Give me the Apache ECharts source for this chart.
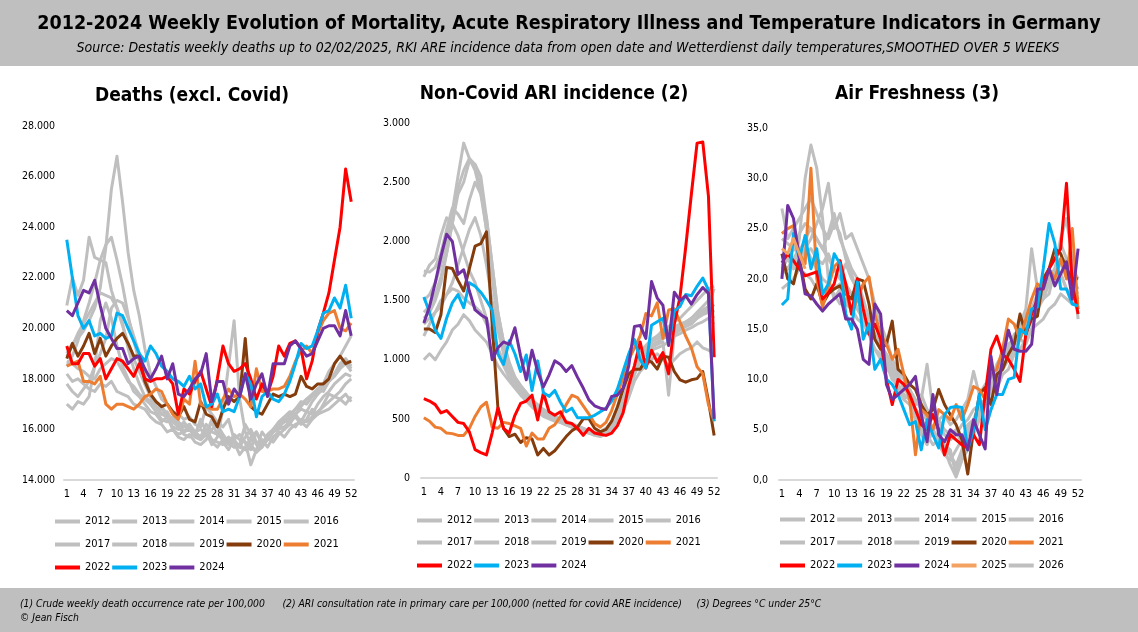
<!DOCTYPE html>
<html><head><meta charset="utf-8">
<script src="https://cdn.jsdelivr.net/npm/echarts@6/dist/echarts.min.js"></script>
<style>html,body{margin:0;padding:0;background:#fff}#c{width:1138px;height:632px}</style>
</head><body><div id="c"></div>
<script>
const weeks = Array.from({length:52},(_,i)=>String(i+1));
const years = ['2012','2013','2014','2015','2016','2017','2018','2019','2020','2021','2022','2023','2024'];
const years3 = years.concat(['2025','2026']);

// ---- Deaths (excl. Covid) ----
const deaths2012=[17000,16800,17100,17000,17300,18500,20300,21000,20400,19300,18500,18000,17500,17300,17000,16700,16600,16300,16500,16000,15800,15900,16000,15700,15600,15800,15500,15300,15600,15500,15300,15400,16200,15800,15400,15600,15300,15700,15900,15700,16000,16200,16300,16100,16400,16600,16700,16800,17000,17200,17400,17100];
const deaths2013=[17800,17500,17300,17600,17900,18500,19000,19600,20800,21100,21000,20400,19700,19000,18200,17300,16900,16600,16500,16100,16000,16300,16000,15900,15600,15800,16300,15800,15700,15600,15500,15300,15200,15700,15900,15400,15600,15900,16000,16100,16300,16500,16200,16400,16800,16600,17000,17400,17300,17500,17800,18000];
const deaths2014=[18200,17900,18000,17800,17600,17500,17800,17700,17900,17500,17400,17300,17000,16900,16800,16500,16300,16200,15900,16000,15700,15600,15800,15500,15400,15600,16000,16200,15800,15500,15300,15400,15200,15600,15500,15300,15700,15500,15800,16000,16200,16100,16400,16300,16500,16700,16900,17100,17300,17200,17000,17300];
const deaths2015=[18500,18900,19500,20300,21000,21800,22700,23300,23600,22700,21700,20500,19500,18700,17800,17300,16900,16600,16700,16300,16100,15800,15700,15900,16000,15800,16400,16200,15500,15200,15600,15300,15700,16000,15500,15400,15700,16000,16300,16500,16700,16600,16900,17200,17300,17600,17500,17900,18100,18400,18600,18300];
const deaths2016=[18700,18600,18400,18300,18100,18000,18400,18600,18800,18700,18300,17900,17700,17400,17200,17000,16700,16400,16300,16500,16200,15900,16100,15800,15700,16000,15600,15500,15400,15700,15500,15000,15300,15200,15900,15500,15700,15900,16100,16400,16200,16600,16800,16700,17100,17400,17600,17900,18200,18500,18700,18400];
const deaths2017=[20900,22000,21300,21900,23600,22800,22700,22600,21500,20800,20100,19400,18800,18300,17800,17400,17100,16900,16600,16400,16300,16100,16200,15900,15700,16200,15900,15800,15600,15400,15800,15600,15500,15300,15100,15400,15800,16000,16200,16300,16600,16800,17100,17000,17300,17500,17700,18000,18200,18600,18800,18500];
const deaths2018=[19000,19400,19600,19900,20300,20800,21600,23200,25500,26800,25000,23000,21500,20500,19200,18200,17700,17200,17000,16700,16600,16400,16500,16200,16100,16900,16600,16300,16100,16400,15600,15800,15500,14600,15200,15900,15600,15900,16200,16000,16400,16600,16300,16700,16600,17000,17300,17500,17800,18000,18200,18100];
const deaths2019=[18900,19300,19800,20200,20600,21000,21400,21300,21200,20800,20200,19200,18400,17800,17300,17100,16900,16800,16600,16400,16300,15900,16200,15800,16400,15900,15400,15700,16800,18500,20300,17200,15900,15400,15100,15300,15600,15900,16100,16300,16500,16800,17000,17200,17400,17600,17800,18300,18600,18900,19300,19700];
const deaths2020=[18800,19400,18900,19300,19800,19000,19600,18900,19300,19600,19800,19400,18900,18900,17900,17400,17100,16900,17000,16700,16500,16900,16400,16300,17100,16600,16500,16100,16800,17300,17100,17300,19600,16900,16700,16600,17000,17400,17300,17400,17300,17400,18100,17700,17600,17800,17800,18000,18600,18900,18600,18700];
const deaths2021=[18500,18600,18700,17900,17900,17800,18100,17000,16800,17000,17000,16900,16800,17000,17300,17400,17600,17500,17000,16600,16400,17200,17000,18700,17000,16900,16800,16800,17200,17600,17300,17400,17200,16900,18400,17500,17500,17600,17600,17700,18100,18700,19100,19300,19000,19800,20300,20600,20700,20000,19900,20200];
const deaths2022=[19300,18600,18600,19000,19000,18500,18800,18000,18400,18800,18700,18400,18100,18600,18000,17900,18000,18000,18100,17800,16600,17600,17400,17900,18300,17600,16900,18000,19300,18600,18300,18400,18600,18000,17200,17800,17400,18100,19300,18900,19400,19500,19200,18000,18700,19900,20600,21400,22700,24000,26300,25000];
const deaths2023=[23500,22000,20500,20000,20300,19700,19800,19600,19700,20600,20500,20000,19500,19000,18700,19300,19000,18500,18300,18000,17900,17700,18100,17600,17800,16900,17000,17400,16700,16800,16700,17300,18200,17800,16500,17300,17500,17200,17100,17400,17900,18600,19400,19200,19300,19900,20600,20700,21200,20800,21700,20400];
const deaths2024=[20700,20500,21000,21500,21400,21900,20900,20000,19600,19200,19200,18600,18800,18900,18400,18000,18400,18900,18000,18600,17400,17300,17600,18000,18200,19000,17100,17900,17900,17000,17600,17300,18200,17200,17800,18200,17300,18600,18600,18600,19300,19500,19200,18900,19000,19500,20000,20100,20100,19700,20700,19700];

// ---- Non-Covid ARI incidence ----
const ari2012=[1000,1050,1000,1080,1150,1250,1300,1380,1330,1250,1200,1150,1050,950,880,820,760,700,650,600,560,520,500,480,470,460,450,430,420,400,380,370,380,420,480,560,680,820,900,950,1000,1050,1000,950,1000,1050,1080,1100,1150,1100,1080,1050];
const ari2013=[1750,1740,1780,1900,2100,2280,2230,2150,2350,2500,2400,2200,1800,1400,1150,980,850,760,700,640,600,560,540,510,490,470,450,430,410,390,370,380,410,460,540,650,780,920,1050,1100,1120,1150,1180,1200,1220,1250,1280,1300,1350,1400,1450,1600];
const ari2014=[1300,1350,1400,1500,1550,1600,1580,1520,1480,1450,1400,1300,1200,1100,980,900,820,750,690,640,600,560,530,500,480,460,440,420,400,380,370,370,390,440,520,620,750,880,980,1050,1080,1100,1120,1150,1200,1220,1250,1270,1300,1320,1350,1300];
const ari2015=[1400,1450,1550,1700,1900,2150,2450,2600,2700,2650,2550,2200,1800,1400,1150,950,820,750,680,620,580,540,520,500,470,450,430,410,390,380,360,350,370,420,500,600,740,880,1000,1080,1120,1150,1180,1200,1230,1260,1300,1320,1350,1380,1400,1350];
const ari2016=[1200,1300,1400,1450,1550,1650,1800,1950,2100,2200,2050,1800,1500,1250,1050,900,800,720,660,610,570,530,510,490,470,450,430,410,390,380,370,380,400,450,530,640,780,920,1050,1100,1150,1200,1220,1250,1280,1300,1320,1350,1380,1420,1450,1400];
const ari2017=[1700,1800,1850,2050,2200,2150,2050,1900,1750,1650,1500,1350,1200,1050,950,850,780,720,670,620,580,550,520,500,480,460,440,420,400,390,380,380,400,440,510,600,740,880,1000,1050,1100,1130,1150,700,1220,1260,1300,1350,1400,1450,1500,1450];
const ari2018=[1500,1550,1650,1800,2000,2250,2550,2830,2700,2600,2400,2100,1700,1350,1100,950,850,780,720,660,620,580,550,520,500,480,460,440,420,400,380,390,410,460,540,650,790,930,1050,1100,1150,1180,1200,1230,1250,1280,1310,1350,1380,1400,1420,1400];
const ari2019=[1350,1400,1500,1650,1900,2150,2400,2500,2680,2650,2450,2100,1700,1350,1100,950,850,780,720,660,610,570,540,510,490,470,450,430,410,400,390,390,420,470,560,670,800,940,1060,1120,1170,1200,1250,1280,1320,1350,1400,1450,1500,1550,1600,1620];
const ari2020=[1260,1260,1230,1380,1780,1770,1670,1580,1770,1960,1980,2080,1300,600,420,350,370,300,340,330,195,250,195,230,290,350,400,430,500,500,420,390,410,480,600,750,880,920,920,1000,980,920,1030,1020,900,830,810,830,840,900,650,360];
const ari2021=[510,480,430,420,380,375,360,360,420,520,600,640,430,420,470,460,440,420,270,380,330,330,420,450,520,620,700,680,610,540,460,430,470,570,710,850,1000,1100,1200,1390,1370,1480,1180,1420,1430,1320,1200,1100,940,880,620,480];
const ari2022=[670,650,620,550,570,520,470,460,390,240,215,195,380,590,420,380,530,630,650,700,490,720,560,530,560,470,460,420,360,420,380,370,360,380,440,550,780,950,1150,930,1080,980,1060,880,1300,1530,1950,2400,2830,2840,2380,1020];
const ari2023=[1530,1400,1250,1180,1350,1480,1550,1440,1650,1620,1570,1500,1420,1050,960,1160,1050,900,1040,740,990,720,690,740,640,560,590,510,510,510,530,560,590,650,750,900,1050,1170,1000,930,1290,1320,1350,1130,1410,1450,1550,1540,1620,1690,1590,480];
const ari2024=[1310,1450,1650,1870,2060,2000,1720,1760,1580,1420,1380,1350,1000,1100,1150,1130,1270,1030,830,1080,900,770,870,990,960,900,950,850,760,660,610,590,580,690,700,760,950,1280,1290,1180,1660,1520,1460,1120,1570,1500,1540,1470,1550,1610,1560,500];

// ---- Air Freshness (degrees under 25°C) ----
const temp2012=[22.5,22,21,24,30,33.3,31,26,20,18,19,17.5,17,18,16.5,15,14,13.5,11,10.5,9,8,9,7.5,8.5,7,6.5,6,5,4.5,5,3.5,5,6,7.5,8,9,10.5,11,12,13,14,13.5,15,17,18,18.5,21,20.5,19,18,17];
const temp2013=[27,24,25,26,27,28,26.5,25,24,25.5,24.5,22,20.5,18.5,16,14.5,13,12.5,11.5,10,9.5,8.5,8,6.5,5,4,5,3.5,2.5,2,3,4,5.5,6,7,7.5,9,10,12,13,14.5,15,16,17,18.5,19,20,19.5,20.5,19,18,17.5];
const temp2014=[19,19.5,20,21,20.5,20,19,18.5,19,18.5,17.5,18,17,16,15.5,14.5,13,12,11.5,10.5,9,8.5,8,7,6.5,6,5,5.5,4.5,4,4.5,5.5,6,7,7.5,8,9.5,10.5,11.5,12,12.5,13,14,15,15.5,16,17,17.5,18.5,18,17.5,18];
const temp2015=[21,22,23,22.5,24,25,24,23,22,21,20,21.5,20,19,17.5,16,14,13.5,12.5,11.5,10.5,9,8.5,7,6,5,4.5,4,3.5,3,0.5,2,3,4.5,6,7.5,8.5,9,10.5,11,12.5,14,15.5,17,18,19,20,21,21.5,20.5,19,18.5];
const temp2016=[20.5,21,22,21.5,22.5,23,22,21.5,22.5,21,20,19.5,18.5,17,16,15.5,14.5,13,12,10,9.5,8,7.5,6,5.5,4.5,3.5,4,3,2.5,1,2.5,3.5,5,6.5,7.5,8.5,10,11,12,13,14.5,15,16.5,17.5,18.5,20,21,22,21,19.5,18];
const temp2017=[24,23.5,23,24.5,25.5,25,24,23,24.5,26.5,24,22.5,21,20,18,16,14.5,13.5,12,11,10,9.5,8.5,7.5,8,11.5,7,6,6.5,5.5,6,7,8,10.8,8.5,9.5,10,11.5,12.5,13.5,14,15,16.5,17,18,19.5,21,22,23.5,22,20,19];
const temp2018=[22,22.5,21,22,23,24,25.5,27,29.5,25,26.5,24,24.5,23,21.5,20,17.5,15.5,14,12,11,10,9,8,7,6,5,4,3.5,2.5,1.5,3,4.5,5.5,7,8,9,10,11,12,13,14.5,15.5,16,17.5,18.5,19.5,20.5,21.5,22,21,20];
const temp2019=[21.5,21,22,23,23.5,22,21,20,19.5,19,19.5,19,18.5,17,16,15.5,14,13,12.5,11,10,9.5,9,7,4.5,3.5,5,4,3,1.5,0.3,2,3.5,5,6.5,8,9,10.5,12,13,14,15.5,17,23,19,18,19.5,21,24,26,22,16];
const temp2020=[22.5,20.0,19.5,22.0,19.0,18.0,19.5,17.5,18.5,19.0,19.3,18.5,18.0,20.0,19.8,17.5,14.0,13.0,13.5,15.8,11.0,10.5,9.5,9.0,7.5,6.5,7.0,9.0,7.5,6.5,5.5,4.0,0.6,5.0,8.5,9.2,7.5,10.5,11.0,12.5,13.5,16.5,14.5,16.0,16.3,20.0,21.0,23.0,22.5,21.0,20.0,20.0];
const temp2021=[24.5,25.0,25.3,22.5,21.5,31.0,20.0,17.2,19.2,21.2,21.8,18.9,16.5,18.0,19.5,20.2,16.5,14.5,13.5,12.0,13.0,10.5,8.0,2.5,7.0,6.5,5.0,7.0,6.5,6.0,7.5,6.0,7.5,9.3,9.0,8.0,10.5,11.0,13.0,16.0,15.5,14.0,16.0,18.0,19.5,19.0,21.0,20.0,22.0,20.0,25.0,17.0];
const temp2022=[21.6,22.5,21.8,21.0,20.3,20.5,20.7,18.0,18.6,19.5,21.8,19.5,16.5,20.0,17.0,14.5,15.5,14.0,10.0,7.5,10.0,9.5,8.5,7.0,5.5,5.0,6.5,5.0,2.5,4.5,4.0,3.5,3.2,4.5,3.5,8.5,13.0,14.3,12.5,12.0,11.0,9.8,14.5,16.5,18.0,19.5,21.0,22.0,23.0,29.5,19.5,16.5];
const temp2023=[17.4,18.0,24.5,22.0,24.3,21.0,23.0,18.5,19.5,22.5,21.5,16.5,15.0,19.7,14.0,15.5,11.0,12.0,10.0,9.5,8.5,7.0,5.5,5.8,3.0,6.0,4.5,3.2,6.5,7.2,7.3,7.2,3.0,5.0,8.5,5.0,7.0,8.5,8.5,10.0,10.2,15.0,14.5,17.0,17.2,21.0,25.5,23.5,19.0,19.0,17.5,17.3];
const temp2024=[20.0,27.3,26.0,22.0,18.5,18.3,17.5,16.8,17.5,18.0,18.5,16.0,16.0,15.0,12.0,11.5,17.5,16.5,9.5,8.0,8.5,9.0,9.5,10.3,6.5,3.8,8.5,4.5,3.8,5.0,4.5,4.5,3.0,6.0,4.5,3.1,12.3,8.5,12.0,14.9,13.0,12.8,12.8,13.5,19.0,19.0,21.0,19.3,20.5,21.7,18.0,23.0];
const temp2025=[23.0,22.5,24.0,22.5,21.0];
const temp2026=[];

const colors = {'2020':'#843c0c','2021':'#ed7d31','2022':'#ff0000','2023':'#00b0f0','2024':'#7030a0','2025':'#f4a261','2026':'#bfbfbf'};
const gray = '#bfbfbf';
const FONT = '"DejaVu Sans Condensed","DejaVu Sans",sans-serif';

const panels = [
  {data:{'2012':deaths2012,'2013':deaths2013,'2014':deaths2014,'2015':deaths2015,'2016':deaths2016,'2017':deaths2017,'2018':deaths2018,'2019':deaths2019,'2020':deaths2020,'2021':deaths2021,'2022':deaths2022,'2023':deaths2023,'2024':deaths2024}, yrs:years},
  {data:{'2012':ari2012,'2013':ari2013,'2014':ari2014,'2015':ari2015,'2016':ari2016,'2017':ari2017,'2018':ari2018,'2019':ari2019,'2020':ari2020,'2021':ari2021,'2022':ari2022,'2023':ari2023,'2024':ari2024}, yrs:years},
  {data:{'2012':temp2012,'2013':temp2013,'2014':temp2014,'2015':temp2015,'2016':temp2016,'2017':temp2017,'2018':temp2018,'2019':temp2019,'2020':temp2020,'2021':temp2021,'2022':temp2022,'2023':temp2023,'2024':temp2024,'2025':temp2025,'2026':temp2026}, yrs:years3}
];

const grids = [
  {left:64, top:126, width:290, height:354},
  {left:421, top:123, width:296, height:355},
  {left:779, top:128, width:302, height:352}
];
const yCfg = [
  {min:14000,max:28000,interval:2000,fmt:v=>(v/1000)+'.000', margin:9},
  {min:0,max:3000,interval:500,fmt:v=>v===0?'0':(v>=1000?Math.floor(v/1000)+'.'+String(v%1000).padStart(3,'0'):String(v)), margin:11},
  {min:0,max:35,interval:5,fmt:v=>v.toFixed(1).replace('.',','), margin:11}
];

const series = [];
panels.forEach((p,gi)=>{
  p.yrs.forEach(y=>{
    const c = colors[y] || gray;
    series.push({type:'line', name:y, data:p.data[y], xAxisIndex:gi, yAxisIndex:gi,
      symbol:'none', showSymbol:false, smooth:false,
      lineStyle:{width:3, color:c, join:'round'}, itemStyle:{color:c},
      emphasis:{disabled:true}, animation:false});
  });
});

const legendRows = [
  {left:55, tops:[516,539,562], rows:[years.slice(0,5),years.slice(5,10),years.slice(10,13)]},
  {left:417, tops:[515,537,560], rows:[years.slice(0,5),years.slice(5,10),years.slice(10,13)]},
  {left:780, tops:[514,537,560], rows:[years3.slice(0,5),years3.slice(5,10),years3.slice(10,15)]}
];
const legends = [];
legendRows.forEach(lr=>{
  lr.rows.forEach((r,i)=>{
    legends.push({left:lr.left, top:lr.tops[i], orient:'horizontal', icon:'rect', itemWidth:25, itemHeight:4,
      itemGap:2, padding:0, selectedMode:false, data:r,
      textStyle:{fontSize:11, width:25, color:'#000', fontFamily:FONT}});
  });
});

function txt(x,y,text,font){
  return {type:'text', x:x, y:y, style:{text:text, font:font, fill:'#000',
    textAlign:'center', textVerticalAlign:'middle', align:'center', verticalAlign:'middle'}};
}
function txtL(x,y,text,font){
  return {type:'text', x:x, y:y, style:{text:text, font:font, fill:'#000',
    textAlign:'left', textVerticalAlign:'middle', align:'left', verticalAlign:'middle'}};
}

const option = {
  animation:false,
  backgroundColor:'#ffffff',
  graphic:[
    {type:'rect', shape:{x:0,y:0,width:1138,height:66}, style:{fill:'#bfbfbf'}, z:-10},
    {type:'rect', shape:{x:0,y:588,width:1138,height:44}, style:{fill:'#bfbfbf'}, z:-10},
    txt(569,24,'2012-2024 Weekly Evolution of Mortality, Acute Respiratory Illness and Temperature Indicators in Germany','bold 19.5px '+FONT),
    txt(568,48,'Source: Destatis weekly deaths up to 02/02/2025, RKI ARE incidence data from open date and Wetterdienst daily temperatures,SMOOTHED OVER 5 WEEKS','italic 14px '+FONT),
    txt(192,96,'Deaths (excl. Covid)','bold 19px '+FONT),
    txt(554,94,'Non-Covid ARI incidence (2)','bold 19px '+FONT),
    txt(917,94,'Air Freshness (3)','bold 19px '+FONT),
    txtL(20,604,'(1) Crude weekly death occurrence rate per 100,000      (2) ARI consultation rate in primary care per 100,000 (netted for covid ARE incidence)     (3) Degrees °C under 25°C','italic 10.3px '+FONT),
    txtL(20,618,'© Jean Fisch','italic 10.3px '+FONT)
  ],
  legend: legends,
  grid: grids.map(g=>Object.assign({containLabel:false},g)),
  xAxis: grids.map((g,i)=>({type:'category', gridIndex:i, data:weeks, boundaryGap:true,
    axisLine:{show:true, lineStyle:{color:'#d9d9d9', width:2}}, axisTick:{show:false},
    axisLabel:{interval:2, fontSize:11, color:'#000', margin:9, fontFamily:FONT}, splitLine:{show:false}})),
  yAxis: yCfg.map((y,i)=>({type:'value', gridIndex:i, min:y.min, max:y.max, interval:y.interval,
    axisLine:{show:false}, axisTick:{show:false}, splitLine:{show:false},
    axisLabel:{formatter:y.fmt, fontSize:10.5, color:'#000', margin:y.margin, fontFamily:FONT}})),
  series: series
};
const chart = echarts.init(document.getElementById('c'), null, {renderer:'canvas'});
chart.setOption(option);
</script></body></html>
